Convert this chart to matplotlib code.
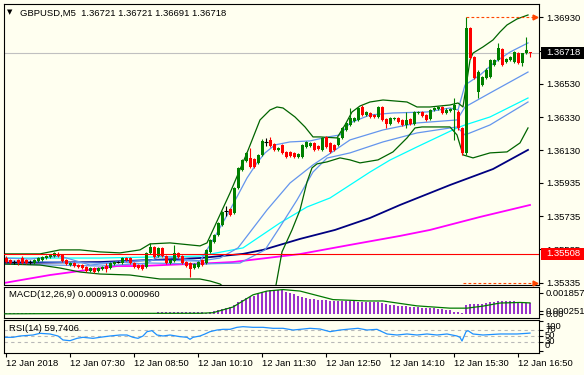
import matplotlib
matplotlib.use("Agg")
import matplotlib.pyplot as plt
import matplotlib.transforms as mtransforms
from matplotlib.patches import Rectangle

W, H = 584, 375
BG = "#FFFFF0"
FS = 6.8
plt.rcParams["font.family"] = ["Liberation Sans", "DejaVu Sans"]

# ---------------- data (GBPUSD M5, 12 Jan 2018) ----------------
opens = [1.35484, 1.35471, 1.35459, 1.35471, 1.35483, 1.35471, 1.35459, 1.35453, 1.35465, 1.35471,
         1.35483, 1.35489, 1.35495, 1.35507, 1.35501, 1.35471, 1.35441, 1.35453, 1.35441, 1.35441,
         1.35429, 1.35405, 1.35423, 1.35405, 1.35417, 1.35435, 1.35423, 1.35447, 1.35459, 1.35453,
         1.35483, 1.35483, 1.35453, 1.35441, 1.35441, 1.35429, 1.35513, 1.35549, 1.35495, 1.35543,
         1.35495, 1.35453, 1.35465, 1.35513, 1.35495, 1.35459, 1.35453, 1.35423, 1.35429, 1.35471,
         1.35453, 1.35520, 1.35580, 1.35622, 1.35682, 1.35766, 1.35778, 1.35754, 1.35904, 1.36013,
         1.36067, 1.36085, 1.36079, 1.36055, 1.36103, 1.36181, 1.36193, 1.36169, 1.36133, 1.36163,
         1.36121, 1.36121, 1.36115, 1.36091, 1.36091, 1.36151, 1.36157, 1.36175, 1.36157, 1.36133,
         1.36211, 1.36175, 1.36163, 1.36163, 1.36205, 1.36253, 1.36283, 1.36307, 1.36313, 1.36391,
         1.36343, 1.36355, 1.36343, 1.36331, 1.36391, 1.36319, 1.36289, 1.36319, 1.36325, 1.36313,
         1.36283, 1.36319, 1.36289, 1.36355, 1.36361, 1.36343, 1.36319, 1.36373, 1.36379, 1.36391,
         1.36355, 1.36367, 1.36373, 1.36361, 1.36265, 1.36115, 1.36866, 1.36691, 1.36481, 1.36523,
         1.36565, 1.36571, 1.36643, 1.36673, 1.36739, 1.36661, 1.36673, 1.36661, 1.36715, 1.36655,
         1.36715, 1.36721]
highs = [1.35496, 1.35477, 1.35471, 1.35477, 1.35495, 1.35477, 1.35471, 1.35477, 1.35489, 1.35495,
         1.35501, 1.35507, 1.35519, 1.35519, 1.35507, 1.35477, 1.35459, 1.35459, 1.35447, 1.35447,
         1.35435, 1.35429, 1.35429, 1.35429, 1.35435, 1.35453, 1.35459, 1.35465, 1.35465, 1.35489,
         1.35489, 1.35489, 1.35459, 1.35447, 1.35447, 1.35519, 1.35574, 1.35555, 1.35549, 1.35549,
         1.35501, 1.35477, 1.35561, 1.35519, 1.35501, 1.35465, 1.35459, 1.35453, 1.35465, 1.35477,
         1.35538, 1.35598, 1.35628, 1.35700, 1.35766, 1.35796, 1.35784, 1.35910, 1.36031, 1.36079,
         1.36121, 1.36145, 1.36085, 1.36109, 1.36199, 1.36205, 1.36211, 1.36175, 1.36151, 1.36169,
         1.36127, 1.36127, 1.36121, 1.36115, 1.36169, 1.36187, 1.36181, 1.36181, 1.36163, 1.36211,
         1.36217, 1.36181, 1.36169, 1.36211, 1.36271, 1.36301, 1.36385, 1.36331, 1.36391, 1.36403,
         1.36367, 1.36361, 1.36349, 1.36397, 1.36397, 1.36325, 1.36331, 1.36331, 1.36331, 1.36319,
         1.36361, 1.36325, 1.36367, 1.36367, 1.36367, 1.36349, 1.36379, 1.36391, 1.36397, 1.36397,
         1.36385, 1.36385, 1.36445, 1.36373, 1.36271, 1.36930, 1.36872, 1.36697, 1.36613, 1.36577,
         1.36625, 1.36679, 1.36679, 1.36776, 1.36745, 1.36685, 1.36697, 1.36727, 1.36721, 1.36715,
         1.36812, 1.36721]
lows = [1.35454, 1.35447, 1.35447, 1.35441, 1.35447, 1.35447, 1.35447, 1.35447, 1.35459, 1.35465,
        1.35477, 1.35483, 1.35489, 1.35489, 1.35459, 1.35441, 1.35435, 1.35429, 1.35423, 1.35417,
        1.35399, 1.35399, 1.35393, 1.35399, 1.35411, 1.35399, 1.35417, 1.35441, 1.35453, 1.35447,
        1.35465, 1.35447, 1.35423, 1.35417, 1.35411, 1.35423, 1.35507, 1.35483, 1.35489, 1.35489,
        1.35447, 1.35447, 1.35459, 1.35483, 1.35447, 1.35429, 1.35370, 1.35417, 1.35423, 1.35435,
        1.35447, 1.35514, 1.35574, 1.35616, 1.35676, 1.35736, 1.35736, 1.35748, 1.35898, 1.36007,
        1.36061, 1.36025, 1.36025, 1.36049, 1.36097, 1.36157, 1.36151, 1.36127, 1.36127, 1.36109,
        1.36085, 1.36091, 1.36085, 1.36085, 1.36085, 1.36145, 1.36151, 1.36127, 1.36133, 1.36127,
        1.36145, 1.36115, 1.36127, 1.36157, 1.36199, 1.36247, 1.36277, 1.36301, 1.36307, 1.36337,
        1.36337, 1.36325, 1.36325, 1.36325, 1.36307, 1.36265, 1.36283, 1.36313, 1.36295, 1.36277,
        1.36265, 1.36283, 1.36283, 1.36349, 1.36331, 1.36307, 1.36313, 1.36367, 1.36373, 1.36349,
        1.36349, 1.36361, 1.36193, 1.36253, 1.36103, 1.36103, 1.36679, 1.36559, 1.36445, 1.36517,
        1.36559, 1.36565, 1.36637, 1.36667, 1.36637, 1.36655, 1.36667, 1.36655, 1.36649, 1.36637,
        1.36709, 1.36691]
closes = [1.35460, 1.35453, 1.35459, 1.35453, 1.35453, 1.35453, 1.35459, 1.35471, 1.35483, 1.35489,
          1.35495, 1.35501, 1.35513, 1.35495, 1.35465, 1.35447, 1.35453, 1.35435, 1.35429, 1.35423,
          1.35405, 1.35423, 1.35399, 1.35423, 1.35429, 1.35417, 1.35453, 1.35459, 1.35459, 1.35483,
          1.35471, 1.35453, 1.35429, 1.35423, 1.35417, 1.35513, 1.35549, 1.35489, 1.35543, 1.35495,
          1.35453, 1.35471, 1.35513, 1.35489, 1.35453, 1.35435, 1.35417, 1.35447, 1.35459, 1.35441,
          1.35532, 1.35592, 1.35622, 1.35694, 1.35760, 1.35766, 1.35742, 1.35904, 1.36025, 1.36073,
          1.36115, 1.36031, 1.36031, 1.36103, 1.36187, 1.36181, 1.36157, 1.36133, 1.36145, 1.36115,
          1.36091, 1.36097, 1.36091, 1.36109, 1.36163, 1.36181, 1.36175, 1.36133, 1.36139, 1.36205,
          1.36151, 1.36121, 1.36133, 1.36205, 1.36265, 1.36295, 1.36325, 1.36325, 1.36385, 1.36343,
          1.36361, 1.36331, 1.36331, 1.36391, 1.36313, 1.36289, 1.36325, 1.36325, 1.36301, 1.36283,
          1.36313, 1.36289, 1.36361, 1.36361, 1.36337, 1.36313, 1.36373, 1.36385, 1.36391, 1.36355,
          1.36373, 1.36379, 1.36403, 1.36265, 1.36115, 1.36866, 1.36685, 1.36565, 1.36601, 1.36571,
          1.36613, 1.36673, 1.36673, 1.36745, 1.36643, 1.36679, 1.36691, 1.36721, 1.36655, 1.36715,
          1.36733, 1.36718]

# indicator lines (bar index, value)
bb_up_idx = [-0.5, 8.5, 13.5, 18.5, 23.5, 28.5, 33.5, 36, 41, 46, 48.5, 50.25, 51.75, 56, 60.25, 63.5,
             66, 67.75, 69.25, 72.25, 74.75, 76.75, 78.5, 82.75, 84.75, 86.5, 88.5, 91, 94.25, 100.25,
             102.75, 106, 111, 113, 114.25, 116, 116.75, 119.25, 121.75, 123.5, 125.25, 127.75, 130.5]
bb_up = [1.35508, 1.35508, 1.35532, 1.35532, 1.35520, 1.35514, 1.35532, 1.35568, 1.35574, 1.35562,
         1.35556, 1.35574, 1.35652, 1.35874, 1.36115, 1.36313, 1.36373, 1.36391, 1.36385, 1.36331,
         1.36271, 1.36211, 1.36211, 1.36205, 1.36283, 1.36361, 1.36397, 1.36421, 1.36433, 1.36421,
         1.36391, 1.36391, 1.36403, 1.36415, 1.36391, 1.36673, 1.36715, 1.36752, 1.36794, 1.36842,
         1.36884, 1.36920, 1.36944]
bb_lo_idx = [-0.5, 8.5, 13.5, 18.5, 23.5, 31, 34.75, 38.5, 48.5, 51, 53.5, 56, 61, 64.75, 67.5, 69,
             71.5, 73.5, 75.25, 76.5, 77.75, 80.25, 83.5, 86, 88.5, 93, 96.75, 100.25, 102.25, 104,
             111, 112.75, 114.25, 116.75, 121, 125.25, 128.5, 130.5]
bb_lo = [1.35447, 1.35441, 1.35423, 1.35399, 1.35387, 1.35381, 1.35369, 1.35357, 1.35357, 1.35345,
         1.35327, 1.35279, 1.35231, 1.35249, 1.35321, 1.35520, 1.35652, 1.35772, 1.35940, 1.36025,
         1.36049, 1.36061, 1.36085, 1.36073, 1.36055, 1.36073, 1.36121, 1.36205, 1.36265, 1.36271,
         1.36271, 1.36223, 1.36103, 1.36085, 1.36115, 1.36121, 1.36175, 1.36265]
env1_idx = [-0.5, 6, 13.5, 21, 28.5, 34.75, 38.5, 44.75, 48.5, 50.25, 52.75, 56, 60.25, 62.75, 64.75,
            67.25, 71, 76, 80.5, 83.5, 86, 91, 96.75, 105.25, 111, 113, 114.75, 118.5, 122.25, 126, 130.5]
env1 = [1.35483, 1.35477, 1.35495, 1.35441, 1.35459, 1.35447, 1.35496, 1.35477, 1.35465, 1.35532,
        1.35634, 1.35772, 1.35964, 1.36055, 1.36115, 1.36163, 1.36181, 1.36187, 1.36211, 1.36223,
        1.36295, 1.36343, 1.36355, 1.36361, 1.36385, 1.36373, 1.36523, 1.36583, 1.36661, 1.36721,
        1.36776]
env2_idx = [-0.5, 23.5, 36, 48.5, 53.5, 58, 65.25, 71, 76.75, 80.5, 86, 94.25, 102.75, 112.75, 114.75,
            121, 130.5]
env2 = [1.35465, 1.35453, 1.35471, 1.35465, 1.35483, 1.35544, 1.35772, 1.35934, 1.36043, 1.36103,
        1.36193, 1.36253, 1.36295, 1.36313, 1.36391, 1.36475, 1.36601]
env3_idx = [-0.5, 23.5, 36, 48.5, 58.5, 64.75, 68.5, 72.75, 76.75, 80.25, 86, 94.25, 102.75, 112.75,
            114.75, 121, 130.5]
env3 = [1.35447, 1.35435, 1.35453, 1.35447, 1.35453, 1.35532, 1.35670, 1.35832, 1.36000, 1.36084,
        1.36115, 1.36181, 1.36235, 1.36271, 1.36223, 1.36283, 1.36421]
ma_cyan_idx = [-0.5, 23.5, 48.5, 59.25, 68.5, 75.25, 81, 86, 91, 96, 102.75, 112.75, 114.75, 121, 130.5]
ma_cyan = [1.35483, 1.35483, 1.35495, 1.35544, 1.35694, 1.35790, 1.35844, 1.35922, 1.36000, 1.36072,
           1.36151, 1.36265, 1.36283, 1.36331, 1.36445]
ma_navy_idx = [-0.5, 23.5, 48.5, 59.25, 64.25, 73.5, 82.25, 91, 98.5, 111, 121.75, 130.5]
ma_navy = [1.35453, 1.35459, 1.35483, 1.35508, 1.35532, 1.35598, 1.35652, 1.35724, 1.35802, 1.35922,
           1.36018, 1.36133]
ma_mag_idx = [-0.5, 11, 27.75, 33.5, 51.75, 56.75, 73.5, 86, 98.5, 106, 118.5, 131]
ma_mag = [1.35333, 1.35381, 1.35435, 1.35435, 1.35453, 1.35459, 1.35507, 1.35562, 1.35616, 1.35652,
          1.35730, 1.35802]

level_price = 1.35508
bid_price = 1.36718
hl_prices = [1.36930, 1.35335]
hl_start = [115, 114.25]

price_ticks = [1.36930, 1.36730, 1.36530, 1.36330, 1.36130, 1.35935, 1.35735, 1.35535, 1.35335]

macd_hist = [0.00008, 0.00008, 0.00008, 0.00008, 0.00008, 0.00008, 0.00008, 0.00008, 0.0, 0.0,
             0.0, 0.0, 0.0, 0.0, 0.0, 0.0, 0.0, 0.0, 0.0, 0.0,
             0.00008, 0.00008, 0.00008, 0.00008, 0.00008, 0.00008, 0.00008, 0.00008, 0.0, 0.0,
             0.0, 0.0, 0.00008, 0.00008, 0.00008, 0.00008, 0.00008, 0.00008, 0.00015, 0.00015,
             0.00015, 0.00015, 0.00015, 0.00015, 0.00015, 0.00015, 0.00015, 0.00015, 0.00015, 0.00015,
             0.0001, 0.00015, 0.00022, 0.0003, 0.0004, 0.0005, 0.0006, 0.00075, 0.0010, 0.0012,
             0.00138, 0.0015, 0.0016, 0.0017, 0.0019, 0.0020, 0.00213, 0.00213, 0.0021, 0.00205,
             0.0019, 0.0018, 0.0017, 0.00158, 0.0015, 0.0014, 0.0013, 0.0013, 0.0012, 0.0012,
             0.0012, 0.0011, 0.0011, 0.0011, 0.0011, 0.0011, 0.0011, 0.0011, 0.00108, 0.00108,
             0.00107, 0.00107, 0.00105, 0.0010, 0.00098, 0.0009, 0.0008, 0.00075, 0.0007, 0.00068,
             0.00065, 0.00062, 0.0006, 0.00058, 0.00055, 0.0005, 0.0005, 0.00048, 0.00045, 0.0004,
             0.00035, 0.0003, 0.0002, 0.00015, 0.00005, 0.0008, 0.0009, 0.00085, 0.0009, 0.0009,
             0.00095, 0.001, 0.00105, 0.0011, 0.0011, 0.0011, 0.0011, 0.0011, 0.00105, 0.001,
             0.00095, 0.000913]
macd_sig_idx = [-0.5, 23.5, 48.5, 51.75, 56.75, 61.75, 65.25, 69.25, 73.5, 81.75, 90.25, 94.25,
                102.75, 111, 115.25, 119.25, 123.5, 128.5, 131]
macd_sig = [0.0, 0.00004, 0.00005, 0.0001, 0.0006, 0.00167, 0.002, 0.00213, 0.002, 0.00125, 0.00113,
            0.00113, 0.0007, 0.0005, 0.0005, 0.00068, 0.00095, 0.0010, 0.00096]
macd_ticks = [0.001857, 0.000251, 0.0]
macd_tick_labels = ["0.001857", "0.000251", "0.00"]

rsi_idx = [-0.25, 1.75, 3.5, 6.75, 8.5, 11, 13, 14.25, 16, 17.75, 19.25, 21.75, 23.5, 26, 28.5, 30.25,
           31.75, 33, 34.25, 35.25, 36.5, 37.75, 39.25, 41, 43.5, 45.25, 46, 46.75, 48.5, 49.75, 51,
           52.75, 54.25, 56, 57.75, 59.25, 61.75, 64.25, 66.75, 69.25, 71.75, 73.5, 76, 78.5, 81,
           83.5, 86, 88, 90.25, 92.75, 95.25, 97.75, 100.25, 102.75, 105.25, 107.75, 110.25, 112.75,
           113.5, 114, 115, 115.5, 116.75, 119.25, 123.5, 127.75, 130.25, 131]
rsi = [45.6, 45.6, 50, 53.3, 58.9, 56.7, 50, 36.7, 34.4, 42.2, 45.6, 42.2, 45.6, 50, 53.3, 53.3,
       45.6, 42.2, 50, 64.4, 67.8, 53.3, 50, 53.3, 47.8, 45.6, 38.9, 45.6, 50, 56.7, 64.4,
       70, 72.2, 72.2, 78.9, 81.1, 78.9, 78.9, 75.6, 75.6, 70, 72.2, 75.6, 73.3, 64.4,
       70, 73.3, 75.6, 70, 72.2, 56.7, 53.3, 56.7, 53.3, 56.7, 53.3, 56.7, 50,
       45.6, 33.3, 64.4, 67.8, 56.7, 53.3, 56.7, 56.7, 58.9, 59.74]
rsi_levels = [70, 50, 30]
rsi_ticks = [100, 70, 50, 30, 0]

time_idx = [0, 16, 32, 48, 64, 80, 96, 112, 128]
time_labels = ["12 Jan 2018", "12 Jan 07:30", "12 Jan 08:50", "12 Jan 10:10", "12 Jan 11:30",
               "12 Jan 12:50", "12 Jan 14:10", "12 Jan 15:30", "12 Jan 16:50"]


def box(x0, y0, x1, y1):
    return [x0 / W, 1 - y1 / H, (x1 - x0) / W, (y1 - y0) / H]


fig = plt.figure(figsize=(W / 100, H / 100), dpi=100, facecolor=BG)
ax = fig.add_axes(box(4, 4, 539, 284.5), facecolor=BG)
axm = fig.add_axes(box(4, 286.5, 539, 317.5), facecolor=BG)
axr = fig.add_axes(box(4, 319.5, 539, 353), facecolor=BG)

XL = (-0.5, 133.25)
for a in (ax, axm, axr):
    a.set_xlim(*XL)
    for s in a.spines.values():
        s.set_linewidth(0.8)
        s.set_color("black")
    a.yaxis.tick_right()
    a.tick_params(axis="y", length=3, width=0.8, pad=2, labelsize=FS, colors="black")
    a.tick_params(axis="x", bottom=False, labelbottom=False)

# ---------------- main price panel ----------------
ax.set_ylim(1.35324, 1.37010)
ax.set_yticks(price_ticks)
ax.set_yticklabels(["%.5f" % p for p in price_ticks])

ax.plot(ma_mag_idx, ma_mag, color="#FF00FF", lw=1.3, zorder=2)
ax.plot(ma_navy_idx, ma_navy, color="#000080", lw=1.3, zorder=2)
ax.plot(ma_cyan_idx, ma_cyan, color="#00FFFF", lw=0.9, zorder=2)
for ix, ys in ((env1_idx, env1), (env2_idx, env2), (env3_idx, env3)):
    ax.plot(ix, ys, color="#6495ED", lw=0.9, zorder=2)
ax.plot(bb_up_idx, bb_up, color="#006400", lw=0.9, zorder=2)
ax.plot(bb_lo_idx, bb_lo, color="#006400", lw=0.9, zorder=2)

ax.axhline(bid_price, color="#C0C0C0", lw=0.8, zorder=1)

for i, (o, h, l, c) in enumerate(zip(opens, highs, lows, closes)):
    if c > o:
        col = "#008000"
    elif c < o:
        col = "#FF0000"
    else:
        col = "black"
    ax.vlines(i, l, h, color=col, lw=0.8, zorder=3)
    if c == o:
        ax.hlines(o, i - 0.4, i + 0.4, color=col, lw=0.8, zorder=3)
    else:
        ax.bar(i, c - o, bottom=o, width=0.75, color=col, linewidth=0, zorder=3)

ax.axhline(level_price, color="#FF0000", lw=0.8, zorder=4)

for p, s in zip(hl_prices, hl_start):
    ax.plot([s, 131.8], [p, p], color="#FF4500", lw=0.8, ls=(0, (2.5, 2)), zorder=4)
    ax.plot([132.2], [p], marker=">", color="#FF4500", ms=3.5, zorder=4, clip_on=False)

tr = mtransforms.blended_transform_factory(ax.transAxes, ax.transData)
for p, fc in ((bid_price, "black"), (level_price, "#FF0000")):
    ax.add_patch(Rectangle((1.0037, p - 0.00036), 0.085, 0.00072, transform=tr,
                           facecolor=fc, edgecolor="none", clip_on=False, zorder=5))
    ax.text(1.0131, p, "%.5f" % p, transform=tr, color="white", fontsize=FS,
            va="center", ha="left", zorder=6, clip_on=False)

# ---------------- MACD panel ----------------
axm.set_ylim(-0.00032, 0.00240)
axm.bar(range(len(macd_hist)), macd_hist, width=0.4, color="#9933CC", linewidth=0, zorder=2)
axm.plot(macd_sig_idx, macd_sig, color="#007A00", lw=0.9, zorder=3)
axm.set_yticks(macd_ticks)
axm.set_yticklabels(macd_tick_labels)
axm.text(0.009, 0.74, "MACD(12,26,9) 0.000913 0.000960", transform=axm.transAxes,
         fontsize=FS, va="center", ha="left")

# ---------------- RSI panel ----------------
axr.set_ylim(-6.7, 105)
for lv in rsi_levels:
    axr.axhline(lv, color="#B8B8B8", lw=0.8, ls=(0, (3, 3)), zorder=1)
axr.plot(rsi_idx, rsi, color="#1E90FF", lw=0.9, zorder=2)
axr.set_yticks(rsi_ticks)
axr.set_yticklabels([])
trr = mtransforms.blended_transform_factory(axr.transAxes, axr.transData)
for v in rsi_ticks:
    vpos = min(max(v, 16.7), 80)
    axr.text(1.0112, vpos, str(v), transform=trr, fontsize=FS, va="center", ha="left",
             clip_on=False)
axr.text(0.009, 0.72, "RSI(14) 59,7406", transform=axr.transAxes, fontsize=FS,
         va="center", ha="left")

axr.tick_params(axis="x", bottom=True, labelbottom=True, length=3, width=0.8, pad=1.5,
                labelsize=FS)
axr.set_xticks(time_idx)
axr.set_xticklabels(time_labels)
for lbl in axr.get_xticklabels():
    lbl.set_horizontalalignment("left")

# ---------------- header ----------------
fig.text(10 / W, 1 - 12 / H, "\u25bc", fontsize=5, family="DejaVu Sans", va="center", ha="center")
fig.text(20 / W, 1 - 13 / H, "GBPUSD,M5  1.36721 1.36721 1.36691 1.36718", fontsize=FS,
         va="center", ha="left")

fig.savefig("out.png", dpi=100, facecolor=BG)
